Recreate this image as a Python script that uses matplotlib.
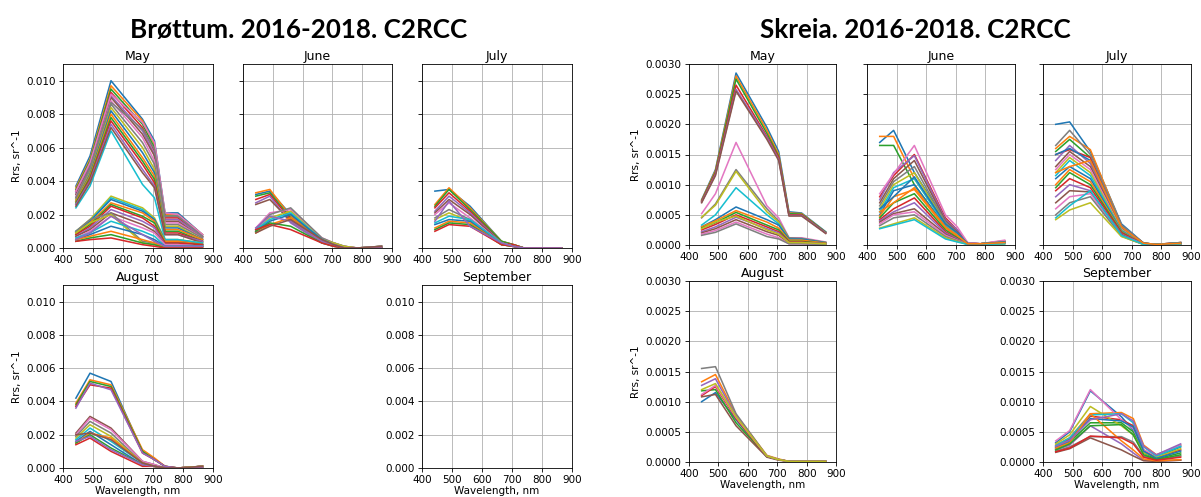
import numpy as np
import matplotlib
matplotlib.use("Agg")
import matplotlib.pyplot as plt

# Sentinel-2 MSI bands used by C2RCC, nm
wl = [443, 490, 560, 665, 705, 740, 783, 865]

months = ["May", "June", "July", "August", "September"]

# ---- Brøttum (Rrs, sr^-1) ----
bro_may = [
    [0.0037, 0.0055, 0.0100, 0.0077, 0.0064, 0.0021, 0.0021, 0.0008],
    [0.0036, 0.0053, 0.0097, 0.0076, 0.0062, 0.0020, 0.0020, 0.0008],
    [0.0035, 0.0052, 0.0095, 0.0074, 0.0060, 0.0019, 0.0019, 0.0007],
    [0.0034, 0.0050, 0.0093, 0.0072, 0.0058, 0.0018, 0.0018, 0.0007],
    [0.0033, 0.0049, 0.0091, 0.0070, 0.0056, 0.0017, 0.0017, 0.0007],
    [0.0032, 0.0048, 0.0090, 0.0068, 0.0055, 0.0016, 0.0016, 0.0006],
    [0.0031, 0.0047, 0.0088, 0.0066, 0.0052, 0.0015, 0.0015, 0.0006],
    [0.0030, 0.0046, 0.0086, 0.0063, 0.0050, 0.0014, 0.0014, 0.0006],
    [0.0029, 0.0045, 0.0084, 0.0060, 0.0047, 0.0013, 0.0013, 0.0005],
    [0.0024, 0.0037, 0.0070, 0.0038, 0.0030, 0.0005, 0.0005, 0.0002],
    [0.0028, 0.0044, 0.0082, 0.0057, 0.0045, 0.0012, 0.0012, 0.0005],
    [0.0028, 0.0043, 0.0080, 0.0054, 0.0043, 0.0011, 0.0011, 0.0005],
    [0.0027, 0.0042, 0.0078, 0.0052, 0.0041, 0.0010, 0.0010, 0.0004],
    [0.0026, 0.0041, 0.0076, 0.0050, 0.0039, 0.0009, 0.0009, 0.0004],
    [0.0026, 0.0040, 0.0074, 0.0047, 0.0037, 0.0008, 0.0008, 0.0004],
    [0.0025, 0.0039, 0.0072, 0.0045, 0.0036, 0.0008, 0.0008, 0.0003],
    [0.0034, 0.0051, 0.0092, 0.0075, 0.0063, 0.0021, 0.0020, 0.0008],
    [0.0030, 0.0048, 0.0087, 0.0071, 0.0059, 0.0019, 0.0019, 0.0007],
    [0.0010, 0.0017, 0.0031, 0.0024, 0.0018, 0.0005, 0.0005, 0.0003],
    [0.0010, 0.0016, 0.0030, 0.0023, 0.0017, 0.0005, 0.0005, 0.0003],
    [0.0009, 0.0016, 0.0029, 0.0022, 0.0017, 0.0004, 0.0004, 0.0002],
    [0.0009, 0.0015, 0.0027, 0.0021, 0.0016, 0.0004, 0.0004, 0.0002],
    [0.0008, 0.0014, 0.0026, 0.0019, 0.0015, 0.0003, 0.0003, 0.0002],
    [0.0008, 0.0013, 0.0025, 0.0018, 0.0013, 0.0003, 0.0003, 0.0002],
    [0.0007, 0.0012, 0.0023, 0.0016, 0.0012, 0.0002, 0.0002, 0.0001],
    [0.0007, 0.0011, 0.0021, 0.0014, 0.0010, 0.0002, 0.0002, 0.0001],
    [0.0006, 0.0010, 0.0019, 0.0012, 0.0009, 0.0002, 0.0002, 0.0001],
    [0.0010, 0.0017, 0.0021, 0.0004, 0.0003, 0.0001, 0.0001, 0.0001],
    [0.0009, 0.0015, 0.0020, 0.0003, 0.0002, 0.0001, 0.0001, 0.0001],
    [0.0006, 0.0009, 0.0016, 0.0010, 0.0007, 0.0001, 0.0001, 0.0001],
    [0.0005, 0.0008, 0.0013, 0.0008, 0.0005, 0.0001, 0.0001, 0.0001],
    [0.0005, 0.0007, 0.0010, 0.0005, 0.0003, 0.0000, 0.0000, 0.0000],
    [0.0004, 0.0006, 0.0008, 0.0003, 0.0002, 0.0000, 0.0000, 0.0000],
    [0.0004, 0.0005, 0.0006, 0.0002, 0.0001, 0.0000, 0.0000, 0.0000],
    [0.0005, 0.0009, 0.0019, 0.0008, 0.0004, 0.0001, 0.0001, 0.0001],
]

bro_jun = [
    [0.0032, 0.0034, 0.0020, 0.0005, 0.0003, 0.0001, 0.0000, 0.0001],
    [0.0033, 0.0035, 0.0019, 0.0005, 0.0002, 0.0001, 0.0000, 0.0001],
    [0.0031, 0.0033, 0.0018, 0.0004, 0.0002, 0.0000, 0.0000, 0.0001],
    [0.0029, 0.0032, 0.0017, 0.0004, 0.0002, 0.0000, 0.0000, 0.0000],
    [0.0027, 0.0031, 0.0015, 0.0003, 0.0001, 0.0000, 0.0000, 0.0000],
    [0.0026, 0.0029, 0.0016, 0.0004, 0.0002, 0.0000, 0.0000, 0.0000],
    [0.0012, 0.0021, 0.0023, 0.0006, 0.0003, 0.0001, 0.0000, 0.0001],
    [0.0011, 0.0020, 0.0024, 0.0006, 0.0003, 0.0001, 0.0000, 0.0001],
    [0.0010, 0.0018, 0.0022, 0.0005, 0.0003, 0.0001, 0.0000, 0.0000],
    [0.0011, 0.0017, 0.0021, 0.0005, 0.0002, 0.0000, 0.0000, 0.0000],
    [0.0010, 0.0016, 0.0020, 0.0005, 0.0002, 0.0000, 0.0000, 0.0000],
    [0.0009, 0.0014, 0.0018, 0.0004, 0.0002, 0.0000, 0.0000, 0.0000],
    [0.0010, 0.0015, 0.0013, 0.0003, 0.0001, 0.0000, 0.0000, 0.0000],
    [0.0011, 0.0014, 0.0011, 0.0003, 0.0001, 0.0000, 0.0000, 0.0000],
    [0.0012, 0.0019, 0.0016, 0.0004, 0.0002, 0.0000, 0.0000, 0.0000],
    [0.0009, 0.0013, 0.0017, 0.0005, 0.0002, 0.0000, 0.0000, 0.0001],
]

bro_jul = [
    [0.0034, 0.0035, 0.0025, 0.0004, 0.0002, 0.0000, 0.0000, 0.0000],
    [0.0026, 0.0036, 0.0024, 0.0004, 0.0002, 0.0000, 0.0000, 0.0000],
    [0.0025, 0.0035, 0.0023, 0.0004, 0.0002, 0.0000, 0.0000, 0.0000],
    [0.0024, 0.0033, 0.0022, 0.0003, 0.0002, 0.0000, 0.0000, 0.0000],
    [0.0022, 0.0031, 0.0021, 0.0003, 0.0001, 0.0000, 0.0000, 0.0000],
    [0.0021, 0.0029, 0.0020, 0.0003, 0.0001, 0.0000, 0.0000, 0.0000],
    [0.0020, 0.0027, 0.0018, 0.0003, 0.0001, 0.0000, 0.0000, 0.0000],
    [0.0018, 0.0023, 0.0017, 0.0003, 0.0001, 0.0000, 0.0000, 0.0000],
    [0.0017, 0.0021, 0.0016, 0.0003, 0.0001, 0.0000, 0.0000, 0.0000],
    [0.0015, 0.0019, 0.0017, 0.0003, 0.0001, 0.0000, 0.0000, 0.0000],
    [0.0014, 0.0017, 0.0016, 0.0002, 0.0001, 0.0000, 0.0000, 0.0000],
    [0.0012, 0.0016, 0.0015, 0.0002, 0.0001, 0.0000, 0.0000, 0.0000],
    [0.0011, 0.0015, 0.0014, 0.0002, 0.0001, 0.0000, 0.0000, 0.0000],
    [0.0010, 0.0014, 0.0013, 0.0002, 0.0001, 0.0000, 0.0000, 0.0000],
    [0.0016, 0.0028, 0.0013, 0.0003, 0.0001, 0.0000, 0.0000, 0.0000],
]

bro_aug = [
    [0.0042, 0.0057, 0.0052, 0.0010, 0.0005, 0.0001, 0.0000, 0.0001],
    [0.0039, 0.0053, 0.0050, 0.0011, 0.0006, 0.0001, 0.0000, 0.0001],
    [0.0038, 0.0052, 0.0049, 0.0010, 0.0005, 0.0001, 0.0000, 0.0001],
    [0.0037, 0.0050, 0.0048, 0.0009, 0.0005, 0.0001, 0.0000, 0.0001],
    [0.0036, 0.0051, 0.0047, 0.0009, 0.0005, 0.0001, 0.0000, 0.0001],
    [0.0021, 0.0031, 0.0024, 0.0004, 0.0002, 0.0000, 0.0000, 0.0001],
    [0.0020, 0.0030, 0.0023, 0.0004, 0.0002, 0.0000, 0.0000, 0.0001],
    [0.0019, 0.0028, 0.0021, 0.0003, 0.0001, 0.0000, 0.0000, 0.0001],
    [0.0018, 0.0026, 0.0019, 0.0003, 0.0001, 0.0000, 0.0000, 0.0001],
    [0.0017, 0.0024, 0.0016, 0.0003, 0.0001, 0.0000, 0.0000, 0.0000],
    [0.0016, 0.0022, 0.0014, 0.0002, 0.0001, 0.0000, 0.0000, 0.0000],
    [0.0015, 0.0021, 0.0018, 0.0003, 0.0001, 0.0000, 0.0000, 0.0000],
    [0.0015, 0.0020, 0.0012, 0.0002, 0.0001, 0.0000, 0.0000, 0.0000],
    [0.0014, 0.0018, 0.0010, 0.0001, 0.0001, 0.0000, 0.0000, 0.0000],
    [0.0016, 0.0019, 0.0011, 0.0002, 0.0001, 0.0000, 0.0000, 0.0000],
    [0.0020, 0.0021, 0.0017, 0.0003, 0.0001, 0.0000, 0.0000, 0.0001],
]

bro_sep = []

# ---- Skreia (Rrs, sr^-1) ----
skr_may = [
    [0.00075, 0.00125, 0.00285, 0.00195, 0.00155, 0.00055, 0.00053, 0.00022],
    [0.00074, 0.00123, 0.00280, 0.00190, 0.00150, 0.00053, 0.00052, 0.00021],
    [0.00073, 0.00121, 0.00275, 0.00185, 0.00147, 0.00052, 0.00051, 0.00021],
    [0.00072, 0.00119, 0.00265, 0.00180, 0.00145, 0.00050, 0.00050, 0.00020],
    [0.00071, 0.00117, 0.00258, 0.00178, 0.00142, 0.00049, 0.00049, 0.00020],
    [0.00070, 0.00115, 0.00255, 0.00175, 0.00140, 0.00048, 0.00048, 0.00019],
    [0.00052, 0.00085, 0.00170, 0.00065, 0.00045, 0.00012, 0.00012, 0.00005],
    [0.00045, 0.00068, 0.00125, 0.00060, 0.00040, 0.00012, 0.00011, 0.00004],
    [0.00046, 0.00066, 0.00122, 0.00055, 0.00038, 0.00010, 0.00010, 0.00004],
    [0.00033, 0.00050, 0.00095, 0.00050, 0.00035, 0.00008, 0.00008, 0.00003],
    [0.00030, 0.00042, 0.00063, 0.00042, 0.00033, 0.00010, 0.00010, 0.00004],
    [0.00030, 0.00040, 0.00057, 0.00038, 0.00028, 0.00008, 0.00008, 0.00003],
    [0.00028, 0.00037, 0.00054, 0.00033, 0.00025, 0.00006, 0.00006, 0.00002],
    [0.00025, 0.00034, 0.00050, 0.00030, 0.00022, 0.00005, 0.00005, 0.00002],
    [0.00022, 0.00030, 0.00046, 0.00027, 0.00020, 0.00004, 0.00004, 0.00002],
    [0.00020, 0.00027, 0.00042, 0.00022, 0.00016, 0.00003, 0.00003, 0.00001],
    [0.00018, 0.00024, 0.00038, 0.00018, 0.00012, 0.00002, 0.00002, 0.00001],
    [0.00016, 0.00021, 0.00035, 0.00014, 0.00010, 0.00002, 0.00002, 0.00001],
    [0.00027, 0.00038, 0.00048, 0.00025, 0.00018, 0.00004, 0.00004, 0.00002],
]

skr_jun = [
    [0.00170, 0.00190, 0.00120, 0.00040, 0.00020, 0.00003, 0.00002, 0.00005],
    [0.00180, 0.00180, 0.00110, 0.00035, 0.00018, 0.00003, 0.00002, 0.00004],
    [0.00165, 0.00165, 0.00100, 0.00030, 0.00015, 0.00002, 0.00002, 0.00004],
    [0.00080, 0.00115, 0.00150, 0.00045, 0.00025, 0.00003, 0.00002, 0.00007],
    [0.00075, 0.00120, 0.00148, 0.00042, 0.00025, 0.00003, 0.00002, 0.00006],
    [0.00070, 0.00110, 0.00140, 0.00040, 0.00022, 0.00003, 0.00002, 0.00006],
    [0.00085, 0.00118, 0.00165, 0.00050, 0.00030, 0.00004, 0.00002, 0.00008],
    [0.00065, 0.00105, 0.00130, 0.00038, 0.00020, 0.00003, 0.00002, 0.00005],
    [0.00060, 0.00100, 0.00120, 0.00035, 0.00018, 0.00002, 0.00002, 0.00005],
    [0.00055, 0.00095, 0.00110, 0.00032, 0.00016, 0.00002, 0.00002, 0.00004],
    [0.00050, 0.00090, 0.00100, 0.00030, 0.00015, 0.00002, 0.00002, 0.00004],
    [0.00048, 0.00080, 0.00092, 0.00028, 0.00014, 0.00002, 0.00002, 0.00004],
    [0.00045, 0.00070, 0.00085, 0.00025, 0.00012, 0.00002, 0.00001, 0.00003],
    [0.00042, 0.00060, 0.00078, 0.00022, 0.00010, 0.00002, 0.00001, 0.00003],
    [0.00040, 0.00055, 0.00070, 0.00020, 0.00010, 0.00001, 0.00001, 0.00003],
    [0.00038, 0.00052, 0.00060, 0.00018, 0.00009, 0.00001, 0.00001, 0.00003],
    [0.00035, 0.00050, 0.00055, 0.00016, 0.00008, 0.00001, 0.00001, 0.00003],
    [0.00032, 0.00045, 0.00050, 0.00014, 0.00007, 0.00001, 0.00001, 0.00002],
    [0.00028, 0.00035, 0.00045, 0.00012, 0.00006, 0.00001, 0.00001, 0.00002],
    [0.00027, 0.00033, 0.00042, 0.00010, 0.00005, 0.00001, 0.00001, 0.00002],
    [0.00060, 0.00080, 0.00113, 0.00035, 0.00020, 0.00002, 0.00002, 0.00005],
    [0.00055, 0.00070, 0.00095, 0.00030, 0.00016, 0.00002, 0.00002, 0.00004],
]

skr_jul = [
    [0.00200, 0.00204, 0.00155, 0.00035, 0.00018, 0.00003, 0.00001, 0.00004],
    [0.00160, 0.00180, 0.00158, 0.00032, 0.00016, 0.00003, 0.00001, 0.00004],
    [0.00155, 0.00175, 0.00145, 0.00030, 0.00015, 0.00003, 0.00001, 0.00003],
    [0.00150, 0.00158, 0.00145, 0.00032, 0.00016, 0.00003, 0.00001, 0.00004],
    [0.00140, 0.00165, 0.00135, 0.00028, 0.00014, 0.00002, 0.00001, 0.00003],
    [0.00130, 0.00155, 0.00130, 0.00027, 0.00013, 0.00002, 0.00001, 0.00003],
    [0.00125, 0.00150, 0.00125, 0.00026, 0.00013, 0.00002, 0.00001, 0.00003],
    [0.00165, 0.00190, 0.00150, 0.00033, 0.00017, 0.00003, 0.00001, 0.00004],
    [0.00120, 0.00145, 0.00120, 0.00025, 0.00012, 0.00002, 0.00001, 0.00003],
    [0.00115, 0.00140, 0.00115, 0.00024, 0.00012, 0.00002, 0.00001, 0.00003],
    [0.00110, 0.00130, 0.00110, 0.00023, 0.00011, 0.00002, 0.00001, 0.00003],
    [0.00100, 0.00125, 0.00105, 0.00022, 0.00011, 0.00002, 0.00001, 0.00002],
    [0.00095, 0.00120, 0.00100, 0.00021, 0.00010, 0.00002, 0.00001, 0.00002],
    [0.00090, 0.00110, 0.00095, 0.00020, 0.00010, 0.00002, 0.00001, 0.00002],
    [0.00080, 0.00100, 0.00090, 0.00018, 0.00009, 0.00002, 0.00001, 0.00002],
    [0.00070, 0.00090, 0.00088, 0.00017, 0.00008, 0.00001, 0.00001, 0.00002],
    [0.00060, 0.00080, 0.00085, 0.00015, 0.00008, 0.00001, 0.00001, 0.00002],
    [0.00050, 0.00070, 0.00080, 0.00015, 0.00007, 0.00001, 0.00001, 0.00002],
    [0.00042, 0.00058, 0.00070, 0.00014, 0.00007, 0.00001, 0.00001, 0.00002],
    [0.00045, 0.00065, 0.00090, 0.00016, 0.00008, 0.00001, 0.00001, 0.00002],
    [0.00150, 0.00160, 0.00140, 0.00030, 0.00015, 0.00003, 0.00001, 0.00003],
    [0.00120, 0.00130, 0.00140, 0.00030, 0.00015, 0.00003, 0.00001, 0.00003],
]

skr_aug = [
    [0.00100, 0.00115, 0.00070, 0.00009, 0.00004, 0.00001, 0.00001, 0.00001],
    [0.00133, 0.00145, 0.00078, 0.00011, 0.00005, 0.00001, 0.00001, 0.00001],
    [0.00118, 0.00120, 0.00065, 0.00009, 0.00004, 0.00001, 0.00001, 0.00001],
    [0.00110, 0.00125, 0.00072, 0.00009, 0.00004, 0.00001, 0.00001, 0.00001],
    [0.00127, 0.00138, 0.00076, 0.00010, 0.00004, 0.00001, 0.00001, 0.00001],
    [0.00108, 0.00112, 0.00060, 0.00008, 0.00003, 0.00001, 0.00001, 0.00001],
    [0.00112, 0.00127, 0.00074, 0.00010, 0.00004, 0.00001, 0.00001, 0.00001],
    [0.00155, 0.00158, 0.00080, 0.00010, 0.00004, 0.00001, 0.00001, 0.00001],
    [0.00120, 0.00130, 0.00075, 0.00010, 0.00004, 0.00001, 0.00001, 0.00001],
]

skr_sep = [
    [0.00032, 0.00050, 0.00118, 0.00075, 0.00052, 0.00018, 0.00008, 0.00025],
    [0.00028, 0.00040, 0.00080, 0.00082, 0.00072, 0.00028, 0.00012, 0.00028],
    [0.00022, 0.00033, 0.00065, 0.00065, 0.00050, 0.00015, 0.00005, 0.00015],
    [0.00025, 0.00038, 0.00076, 0.00070, 0.00060, 0.00020, 0.00008, 0.00020],
    [0.00020, 0.00028, 0.00060, 0.00030, 0.00015, 0.00003, 0.00002, 0.00003],
    [0.00016, 0.00022, 0.00040, 0.00020, 0.00010, 0.00002, 0.00001, 0.00003],
    [0.00035, 0.00052, 0.00120, 0.00070, 0.00055, 0.00020, 0.00010, 0.00028],
    [0.00018, 0.00025, 0.00042, 0.00042, 0.00033, 0.00010, 0.00003, 0.00010],
    [0.00030, 0.00045, 0.00092, 0.00060, 0.00045, 0.00015, 0.00008, 0.00022],
    [0.00027, 0.00040, 0.00078, 0.00080, 0.00065, 0.00025, 0.00010, 0.00026],
    [0.00024, 0.00035, 0.00072, 0.00068, 0.00058, 0.00018, 0.00006, 0.00018],
    [0.00023, 0.00032, 0.00080, 0.00035, 0.00020, 0.00005, 0.00002, 0.00004],
    [0.00020, 0.00030, 0.00060, 0.00062, 0.00045, 0.00012, 0.00004, 0.00012],
    [0.00017, 0.00023, 0.00043, 0.00040, 0.00030, 0.00008, 0.00003, 0.00008],
    [0.00026, 0.00036, 0.00070, 0.00080, 0.00068, 0.00026, 0.00012, 0.00030],
]

# ---- figure: 1201x497 px, two 2x3 grids side by side ----
W, H = 1201, 497
fig = plt.figure(figsize=(W / 75, H / 75), dpi=75)


def add_ax(x0, x1, y0, y1):
    return fig.add_axes([x0 / W, 1 - y1 / H, (x1 - x0) / W, (y1 - y0) / H])


panels = [
    {
        "title": "Brøttum. 2016-2018. C2RCC", "tx": 299,
        "data": [bro_may, bro_jun, bro_jul, bro_aug, bro_sep],
        "ymax": 0.011, "yticks": np.arange(0, 0.0101, 0.002),
        "cols": [(63, 213), (243, 392), (422, 572)],
        "rows": [(64, 248), (285, 468)],
    },
    {
        "title": "Skreia. 2016-2018. C2RCC", "tx": 915,
        "data": [skr_may, skr_jun, skr_jul, skr_aug, skr_sep],
        "ymax": 0.003, "yticks": np.arange(0, 0.00301, 0.0005),
        "cols": [(689, 836), (867, 1015), (1043, 1191)],
        "rows": [(64, 245), (281, 462)],
    },
]

# grid slot of each month: (row, col)
slots = [(0, 0), (0, 1), (0, 2), (1, 0), (1, 2)]

for p in panels:
    fig.text(p["tx"] / W, 1 - 30 / H, p["title"], ha="center", va="center",
             fontsize=25, fontweight="bold", family="Lato")
    for m, (r, c), series in zip(months, slots, p["data"]):
        x0, x1 = p["cols"][c]
        y0, y1 = p["rows"][r]
        ax = add_ax(x0, x1, y0, y1)
        if series:
            ax.plot(wl, np.array(series).T)
        ax.set_xlim(400, 900)
        ax.set_xticks(range(400, 901, 100))
        ax.set_ylim(0, p["ymax"])
        ax.set_yticks(p["yticks"])
        ax.grid(True)
        ax.set_title(m, pad=4)
        if r == 0 and c > 0:
            ax.tick_params(labelleft=False)
        if c == 0:
            ax.set_ylabel("Rrs, sr^-1")
        if r == 1:
            ax.set_xlabel("Wavelength, nm", labelpad=1)

fig.savefig("out.png", dpi=75)
